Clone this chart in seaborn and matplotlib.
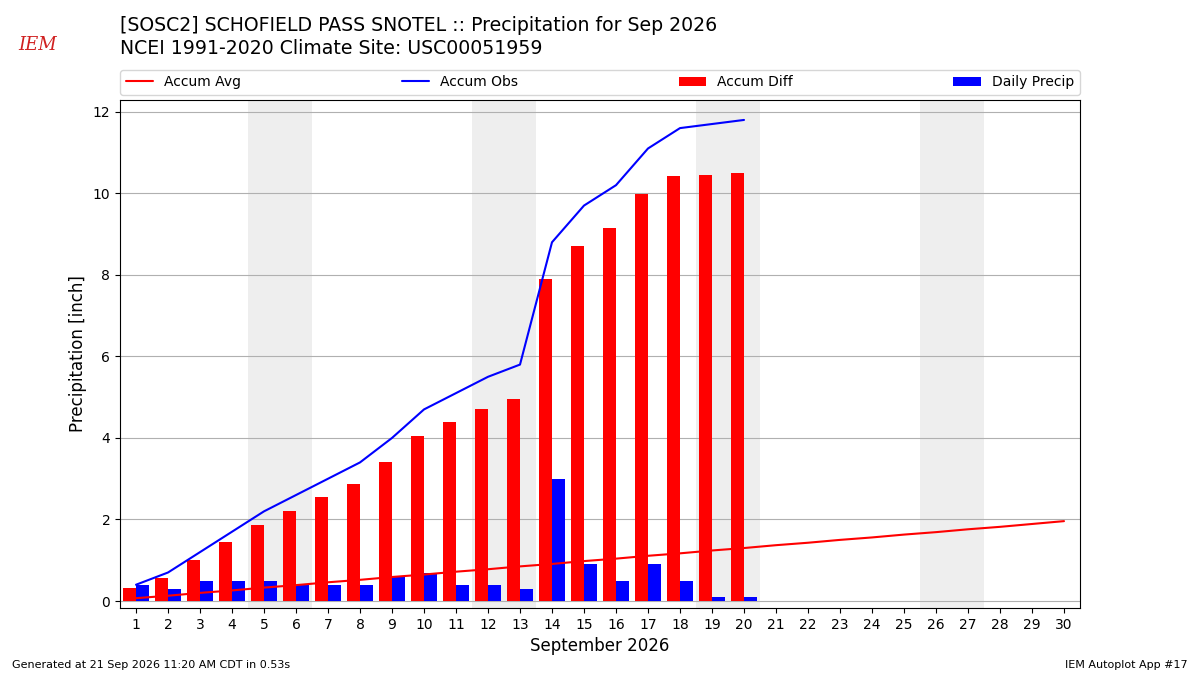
import numpy as np
import matplotlib
matplotlib.use("Agg")
from matplotlib import pyplot as plt
import seaborn as sns

days = list(range(1, 31))
obs_days = list(range(1, 21))

# accumulated climatology (inch)
accum_avg = [0.07, 0.13, 0.20, 0.26, 0.33, 0.39, 0.46, 0.52, 0.59, 0.65,
             0.72, 0.78, 0.85, 0.91, 0.98, 1.04, 1.11, 1.17, 1.24, 1.30,
             1.37, 1.43, 1.50, 1.56, 1.63, 1.69, 1.76, 1.82, 1.89, 1.96]
accum_obs = [0.40, 0.70, 1.20, 1.70, 2.20, 2.60, 3.00, 3.40, 4.00, 4.70,
             5.10, 5.50, 5.80, 8.80, 9.70, 10.20, 11.10, 11.60, 11.70, 11.80]
accum_diff = [0.33, 0.57, 1.00, 1.44, 1.87, 2.21, 2.54, 2.88, 3.41, 4.05,
              4.38, 4.72, 4.95, 7.89, 8.72, 9.16, 9.99, 10.43, 10.46, 10.50]
daily_precip = [0.40, 0.30, 0.50, 0.50, 0.50, 0.40, 0.40, 0.40, 0.60, 0.70,
                0.40, 0.40, 0.30, 3.00, 0.90, 0.50, 0.90, 0.50, 0.10, 0.10]
weekends = [(5, 6), (12, 13), (19, 20), (26, 27)]

sns.set_style("ticks", rc={"text.color": "black", "axes.labelcolor": "black",
                           "xtick.color": "black", "ytick.color": "black",
                           "axes.edgecolor": "black"})
plt.rcParams["font.family"] = ["DejaVu Sans"]

fig = plt.figure(figsize=(12, 6.75), dpi=100)
ax = fig.add_axes([0.1, 0.0993, 0.8, 0.7526])

for a, b in weekends:
    ax.axvspan(a - 0.5, b + 0.5, color="#eeeeee", lw=0, zorder=0)

ax.bar(obs_days, accum_diff, width=-0.4, align="edge", color="red",
       lw=0, label="Accum Diff", zorder=2)
ax.bar(obs_days, daily_precip, width=0.4, align="edge", color="blue",
       lw=0, label="Daily Precip", zorder=2)
sns.lineplot(x=days, y=accum_avg, color="red", ax=ax, label="Accum Avg",
             zorder=3, lw=1.5)
sns.lineplot(x=obs_days, y=accum_obs, color="blue", ax=ax, label="Accum Obs",
             zorder=3, lw=1.5)

ax.set_xlim(0.5, 30.5)
ax.set_ylim(-0.17, 12.29)
ax.set_xticks(days)
ax.set_yticks([0, 2, 4, 6, 8, 10, 12])
ax.tick_params(axis="both", labelsize=10, length=3.5, width=0.8)
ax.yaxis.grid(True, color="#b0b0b0", lw=0.8, zorder=1)
ax.set_axisbelow(True)
for s in ax.spines.values():
    s.set_color("black")
    s.set_linewidth(0.8)
ax.set_xlabel("September 2026", fontsize=12)
ax.set_ylabel("Precipitation [inch]", fontsize=12)

handles, labels = ax.get_legend_handles_labels()
order = [labels.index(n) for n in ["Accum Avg", "Accum Obs", "Accum Diff", "Daily Precip"]]
ax.legend([handles[i] for i in order], [labels[i] for i in order],
          loc="lower left", bbox_to_anchor=(0, 1.01, 1, 0.05), mode="expand",
          ncol=4, fontsize=10, frameon=True, borderaxespad=0)

fig.text(0.1, 0.977, "[SOSC2] SCHOFIELD PASS SNOTEL :: Precipitation for Sep 2026\n"
         "NCEI 1991-2020 Climate Site: USC00051959", fontsize=13.6, va="top",
         ha="left", linespacing=1.3)
fig.text(0.031, 0.933, "IEM", color="#d02020", fontsize=13, style="italic",
         family="DejaVu Serif", ha="center", va="center")
fig.text(0.01, 0.011, "Generated at 21 Sep 2026 11:20 AM CDT in 0.53s", fontsize=8)
fig.text(0.99, 0.011, "IEM Autoplot App #17", fontsize=8, ha="right")

fig.savefig("out.png", dpi=100)
plt.close(fig)
